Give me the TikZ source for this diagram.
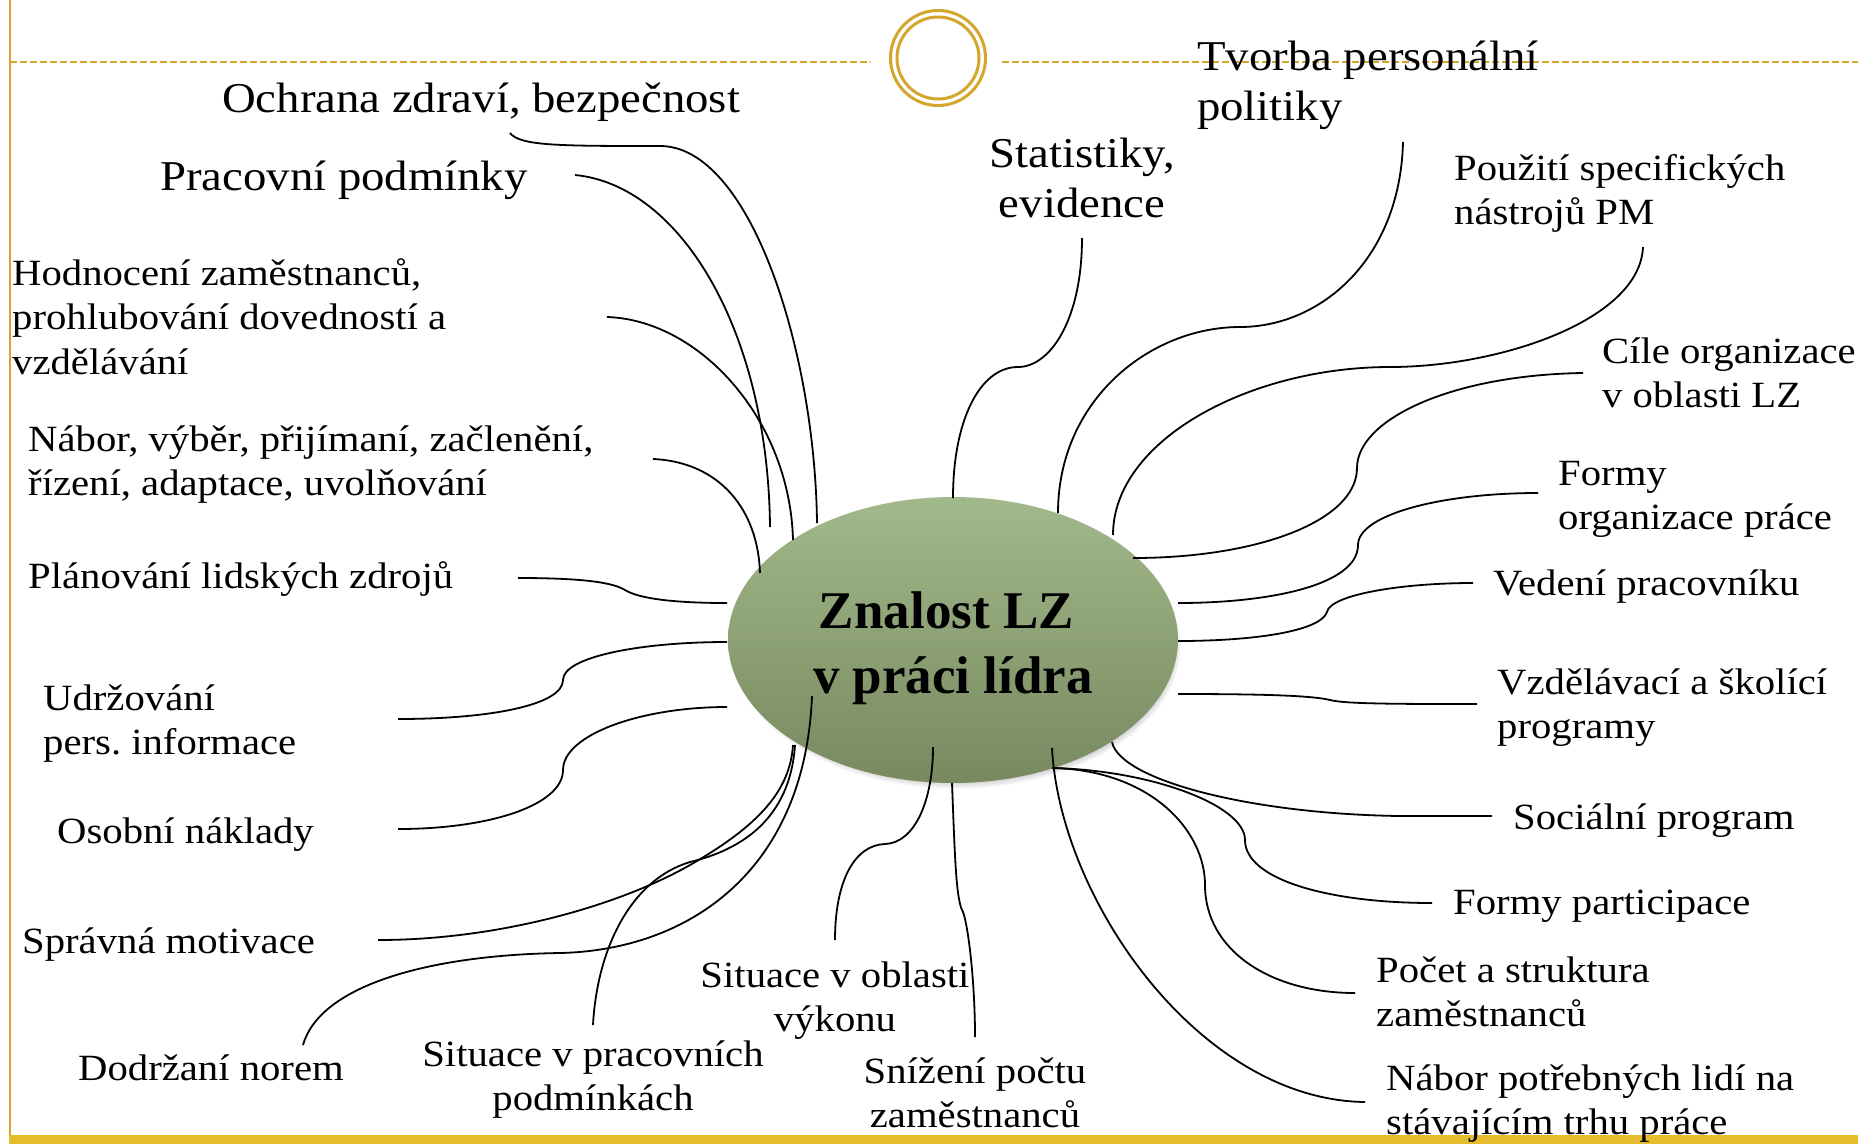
\documentclass[tikz,border=0pt]{standalone}
\usepackage{fontspec}
\setmainfont{Liberation Serif}[FakeStretch=1.1]
\newfontfamily\hubfont{Liberation Serif}
\usetikzlibrary{shapes.geometric}
\frenchspacing

\definecolor{gold}{HTML}{D4A72C}
\definecolor{goldbar}{HTML}{E5BC2C}
\definecolor{sagetop}{HTML}{A1B98B}
\definecolor{sagebot}{HTML}{78895F}

% multi-line labels are placed by the baseline of their last line
\tikzset{
  lbl/.style={inner sep=0pt, anchor=base west, align=left, font=\fontsize{37}{44.5}\selectfont},
  lblc/.style={inner sep=0pt, anchor=base, align=center, font=\fontsize{37}{44.5}\selectfont},
  big/.style={font=\fontsize{42.5}{50}\selectfont},
  link/.style={line width=1.8pt, black},
  hub/.style={ellipse, minimum width=450pt, minimum height=286pt, inner sep=0pt,
    top color=sagetop, bottom color=sagebot},
  hubtext/.style={inner sep=0pt, anchor=base, align=center,
    font=\hubfont\bfseries\fontsize{53}{65}\selectfont},
}

\begin{document}
\begin{tikzpicture}[x=1pt, y=-1pt]
\useasboundingbox (0,0) rectangle (1858,1144);
\fill[white] (0,0) rectangle (1858,1144);

% slide frame
\draw[gold, line width=2pt] (10,0) -- (10,1136);
\draw[gold, line width=2pt, dash pattern=on 7pt off 3pt] (10,62) -- (871,62);
\draw[gold, line width=2pt, dash pattern=on 7pt off 3pt] (1002,62) -- (1858,62);
\draw[gold, line width=3pt] (938,58) circle[radius=47.5pt];
\draw[gold, line width=3pt] (938,58) circle[radius=41pt];
\fill[goldbar] (9,1135) rectangle (1858,1144);

% soft shadow under the central ellipse
\foreach \k in {0,...,11}{
  \pgfmathsetmacro{\rx}{214+\k}
  \pgfmathsetmacro{\ry}{132+\k}
  \fill[black, opacity=0.025] (956,646) ellipse [x radius=\rx pt, y radius=\ry pt];
}

% central topic
\node[hub] (hub) at (953,640) {};
\node[hubtext] (title) at (953,693) {Znalost LZ\hspace*{0.25em}\\v práci lídra};

% connector end points
\coordinate (a0) at (510,133);   \coordinate (a1) at (817,523);
\coordinate (b0) at (575,175);   \coordinate (b1) at (770,527);
\coordinate (c0) at (607,317);   \coordinate (c1) at (793,540);
\coordinate (d0) at (653,459);   \coordinate (d1) at (760,573);
\coordinate (e0) at (518,578);   \coordinate (e1) at (727,603);
\coordinate (f0) at (398,719);   \coordinate (f1) at (727,642);
\coordinate (g0) at (398,829);   \coordinate (g1) at (727,707);
\coordinate (h0) at (378,940);   \coordinate (h1) at (793,745);
\coordinate (sp0) at (593,1025); \coordinate (sp1) at (795,745);
\coordinate (dn0) at (303,1045); \coordinate (dn1) at (812,696);
\coordinate (so0) at (835,940);  \coordinate (so1) at (933,747);
\coordinate (sn0) at (975,1037); \coordinate (sn1) at (952,783);
\coordinate (np0) at (1365,1102);\coordinate (np1) at (1052,748);
\coordinate (fork) at (1052,768);
\coordinate (pc0) at (1355,993);
\coordinate (fp0) at (1432,903);
\coordinate (so2) at (1492,816); \coordinate (so3) at (1112,742);
\coordinate (vz0) at (1477,704); \coordinate (vz1) at (1178,694);
\coordinate (ve0) at (1473,583); \coordinate (ve1) at (1178,641);
\coordinate (fo0) at (1538,493); \coordinate (fo1) at (1178,603);
\coordinate (ci0) at (1583,373); \coordinate (ci1) at (1133,558);
\coordinate (pu0) at (1643,247); \coordinate (pu1) at (1113,535);
\coordinate (tv0) at (1403,142); \coordinate (tv1) at (1058,513);
\coordinate (st0) at (1082,238); \coordinate (st1) at (953,498);

% connectors, left side
\draw[link] (a0) .. controls (520,146) and (560,146) .. (660,146)
                 .. controls (750,146) and (815,350) .. (a1);
\draw[link] (b0) .. controls (680,185) and (768,330) .. (b1);
\draw[link] (c0) .. controls (700,320) and (790,420) .. (c1);
\draw[link] (d0) .. controls (720,462) and (758,510) .. (d1);
\draw[link] (e0) .. controls (580,578) and (612,582) .. (625,590)
                 .. controls (638,598) and (670,603) .. (e1);
\draw[link] (f0) .. controls (490,719) and (563,705) .. (563,680)
                 .. controls (563,657) and (640,642) .. (f1);
\draw[link] (g0) .. controls (490,829) and (563,805) .. (563,770)
                 .. controls (563,735) and (640,707) .. (g1);
\draw[link] (h0) .. controls (500,940) and (620,905) .. (690,865)
                 .. controls (760,825) and (790,790) .. (h1);
\draw[link] (sp0) .. controls (597,950) and (630,880) .. (690,862)
                  .. controls (740,850) and (790,820) .. (sp1);
\draw[link] (dn0) .. controls (320,985) and (430,955) .. (560,953)
                  .. controls (690,950) and (805,870) .. (dn1);

% connectors, bottom
\draw[link] (so0) .. controls (835,880) and (855,845) .. (885,844)
                  .. controls (915,843) and (933,800) .. (so1);
\draw[link] (sn1) .. controls (955,860) and (956,900) .. (963,912)
                  .. controls (968,925) and (975,980) .. (sn0);
\draw[link] (np1) .. controls (1060,900) and (1200,1100) .. (np0);
\draw[link] (fork) .. controls (1150,770) and (1205,830) .. (1205,885)
                   .. controls (1205,950) and (1270,993) .. (pc0);
\draw[link] (fork) .. controls (1150,770) and (1245,805) .. (1245,840)
                   .. controls (1245,880) and (1330,903) .. (fp0);
\draw[link] (so3) .. controls (1120,780) and (1250,814) .. (1400,816) -- (so2);

% connectors, right side and top
\draw[link] (vz1) .. controls (1250,694) and (1310,695) .. (1330,700)
                  .. controls (1345,704) and (1400,704) .. (vz0);
\draw[link] (ve1) .. controls (1250,641) and (1320,632) .. (1327,612)
                  .. controls (1330,595) and (1400,583) .. (ve0);
\draw[link] (fo1) .. controls (1270,603) and (1358,585) .. (1358,545)
                  .. controls (1358,515) and (1440,493) .. (fo0);
\draw[link] (ci1) .. controls (1260,558) and (1357,520) .. (1357,468)
                  .. controls (1357,420) and (1450,375) .. (ci0);
\draw[link] (pu1) .. controls (1113,440) and (1250,367) .. (1390,367)
                  .. controls (1500,367) and (1640,320) .. (pu0);
\draw[link] (tv1) .. controls (1058,400) and (1150,327) .. (1240,327)
                  .. controls (1320,327) and (1400,260) .. (tv0);
\draw[link] (st1) .. controls (953,420) and (980,367) .. (1018,367)
                  .. controls (1050,367) and (1082,320) .. (st0);

% topics
\node[lbl, big] (ochrana) at (222,112) {Ochrana zdraví, bezpečnost};
\node[lbl, big] (pracovni) at (160,190) {Pracovní podmínky};
\node[lbl] (hodnoceni) at (12,374) {Hodnocení zaměstnanců,\\prohlubování dovedností a\\vzdělávání};
\node[lbl] (nabor) at (28,495.5) {Nábor, výběr, přijímaní, začlenění,\\řízení, adaptace, uvolňování};
\node[lbl] (planovani) at (28,588) {Plánování lidských zdrojů};
\node[lbl] (udrzovani) at (43,754.5) {Udržování\\pers. informace};
\node[lbl] (osobni) at (57,843) {Osobní náklady};
\node[lbl] (motivace) at (22,953) {Správná motivace};
\node[lbl] (normy) at (78,1080) {Dodržaní norem};
\node[lblc] (sitprac) at (593,1110.5) {Situace v pracovních\\podmínkách};
\node[lblc] (sitvykon) at (835,1031.5) {Situace v oblasti\\výkonu};
\node[lblc] (snizeni) at (975,1127.5) {Snížení počtu\\zaměstnanců};
\node[lbl] (naborlidi) at (1386,1134.5) {Nábor potřebných lidí na\\stávajícím trhu práce};
\node[lbl] (pocet) at (1376,1026.5) {Počet a struktura\\zaměstnanců};
\node[lbl] (participace) at (1453,914) {Formy participace};
\node[lbl] (socialni) at (1513,829) {Sociální program};
\node[lbl] (vzdelavani) at (1497,738.5) {Vzdělávací a školící\\programy};
\node[lbl] (vedeni) at (1493,595) {Vedení pracovníku};
\node[lbl] (formy) at (1558,529.5) {Formy\\organizace práce};
\node[lbl] (cile) at (1602,407.5) {Cíle organizace\\v oblasti LZ};
\node[lbl] (pouziti) at (1454,224.5) {Použití specifických\\nástrojů PM};
\node[lblc, big] (statistiky) at (1082,217) {Statistiky,\\evidence};
\node[lbl, big] (tvorba) at (1197,120) {Tvorba personální\\politiky};
\end{tikzpicture}
\end{document}
